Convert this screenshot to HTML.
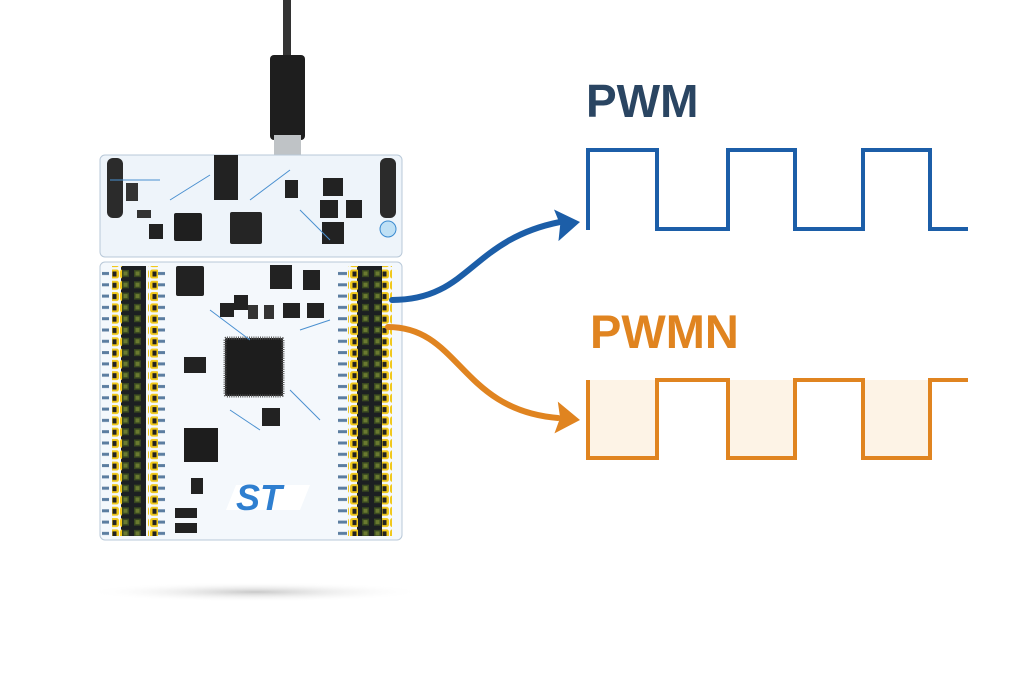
<!DOCTYPE html>
<html><head><style>
html,body{margin:0;padding:0;background:#fff;}
body{width:1024px;height:683px;overflow:hidden;position:relative;font-family:"Liberation Sans",sans-serif;}
</style></head><body>
<svg width="1024" height="683" viewBox="0 0 1024 683" xmlns="http://www.w3.org/2000/svg">
<defs>
<radialGradient id="sh" cx="0.5" cy="0.5" r="0.5"><stop offset="0" stop-color="#bbb" stop-opacity="0.8"/><stop offset="1" stop-color="#fff" stop-opacity="0"/></radialGradient>
<pattern id="hdr" x="0" y="268" width="12" height="11.3" patternUnits="userSpaceOnUse">
<rect x="2" y="2" width="7" height="7" fill="#3a4a20"/><rect x="3.5" y="3.5" width="4" height="4" fill="#6a7a30"/></pattern>
<pattern id="pin" x="0" y="268" width="10" height="11.3" patternUnits="userSpaceOnUse">
<rect x="0" y="1.5" width="9" height="9" rx="2.5" fill="#f0c81c"/><rect x="2.5" y="3.5" width="4" height="5" fill="#222"/></pattern>
<pattern id="lbl" x="0" y="268" width="14" height="11.3" patternUnits="userSpaceOnUse">
<rect x="2" y="4" width="9" height="3" fill="#5b7da0"/></pattern>
</defs>
<ellipse cx="255" cy="592" rx="170" ry="10" fill="url(#sh)"/>
<rect x="283" y="0" width="8" height="60" fill="#333"/>
<rect x="270" y="55" width="35" height="85" rx="4" fill="#1e1e1e"/>
<rect x="274" y="135" width="27" height="25" fill="#bfc3c6"/>
<rect x="100" y="155" width="302" height="102" rx="5" fill="#eef4fa" stroke="#b8c8d8"/>
<rect x="107" y="158" width="16" height="60" rx="6" fill="#2b2b2b"/>
<rect x="380" y="158" width="16" height="60" rx="6" fill="#2b2b2b"/>
<rect x="214" y="155" width="24" height="45" fill="#222"/>
<rect x="174" y="213" width="28" height="28" rx="2" fill="#1f1f1f"/>
<rect x="230" y="212" width="32" height="32" rx="2" fill="#252525"/>
<rect x="149" y="224" width="14" height="15" fill="#222"/>
<rect x="137" y="210" width="14" height="8" fill="#333"/>
<rect x="126" y="183" width="12" height="18" fill="#333"/>
<rect x="323" y="178" width="20" height="18" fill="#222"/>
<rect x="320" y="200" width="18" height="18" fill="#222"/>
<rect x="346" y="200" width="16" height="18" fill="#222"/>
<rect x="322" y="222" width="22" height="22" fill="#222"/>
<rect x="285" y="180" width="13" height="18" fill="#222"/>
<circle cx="388" cy="229" r="8" fill="#bfe0f5" stroke="#3a8ad0"/>
<path d="M110 180 L160 180 M170 200 L210 175 M250 200 L290 170 M300 210 L330 240" stroke="#4a90d0" stroke-width="1"/>
<rect x="100" y="262" width="302" height="278" rx="5" fill="#f4f8fc" stroke="#b8c8d8"/>
<rect x="121" y="266" width="25" height="270" fill="#1c1f22"/>
<rect x="121" y="266" width="25" height="270" fill="url(#hdr)"/>
<rect x="112" y="266" width="10" height="270" fill="url(#pin)"/>
<rect x="148" y="266" width="10" height="270" fill="url(#pin)"/>
<rect x="102" y="266" width="10" height="270" fill="url(#lbl)"/>
<rect x="158" y="266" width="12" height="270" fill="url(#lbl)"/>
<rect x="357" y="266" width="25" height="270" fill="#1c1f22"/>
<rect x="357" y="266" width="25" height="270" fill="url(#hdr)"/>
<rect x="348" y="266" width="10" height="270" fill="url(#pin)"/>
<rect x="382" y="266" width="10" height="270" fill="url(#pin)"/>
<rect x="334" y="266" width="14" height="270" fill="url(#lbl)"/>
<rect x="176" y="266" width="28" height="30" rx="2" fill="#222"/>
<rect x="270" y="265" width="22" height="24" fill="#222"/>
<rect x="303" y="270" width="17" height="20" fill="#222"/>
<rect x="234" y="295" width="14" height="15" fill="#222"/>
<rect x="220" y="303" width="14" height="14" fill="#222"/>
<rect x="248" y="305" width="10" height="14" fill="#333"/>
<rect x="264" y="305" width="10" height="14" fill="#333"/>
<rect x="283" y="303" width="17" height="15" fill="#222"/>
<rect x="307" y="303" width="17" height="15" fill="#222"/>
<rect x="225" y="338" width="58" height="58" rx="2" fill="#1d1d1d" stroke="#555" stroke-dasharray="1 1.2" stroke-width="3"/>
<rect x="184" y="357" width="22" height="16" fill="#222"/>
<rect x="262" y="408" width="18" height="18" fill="#222"/>
<rect x="184" y="428" width="34" height="34" fill="#1d1d1d"/>
<rect x="191" y="478" width="12" height="16" fill="#222"/>
<rect x="175" y="508" width="22" height="10" fill="#222"/>
<rect x="175" y="523" width="22" height="10" fill="#222"/>
<path d="M236 485 L310 485 L300 510 L226 510 Z" fill="#fff"/>
<text x="236" y="510" font-family="Liberation Sans" font-style="italic" font-weight="bold" font-size="36" fill="#2f7fd0">ST</text>
<path d="M210 310 L250 340 M300 330 L330 320 M290 390 L320 420 M230 410 L260 430" stroke="#4a90d0" stroke-width="1" fill="none"/>
<path d="M392 300 C470 300 470 240 560 222" stroke="#1c5ea8" stroke-width="6" fill="none" stroke-linecap="round"/>
<path d="M580 222 L556 206 L560 222 L556 238 Z" fill="#1c5ea8" transform="rotate(-8 580 222)"/>
<path d="M388 327 C460 327 460 410 558 418" stroke="#e08420" stroke-width="6" fill="none" stroke-linecap="round"/>
<path d="M580 420 L556 404 L560 420 L556 436 Z" fill="#e08420" transform="rotate(6 580 420)"/>
<text x="586" y="117" font-family="Liberation Sans" font-weight="bold" font-size="46" fill="#2a4562">PWM</text>
<path d="M588 230 L588 150 L657 150 L657 229 L728 229 L728 150 L795 150 L795 229 L863 229 L863 150 L930 150 L930 229 L968 229" stroke="#1c5ea8" stroke-width="4" fill="none"/>
<text x="590" y="348" font-family="Liberation Sans" font-weight="bold" font-size="47" fill="#e08420">PWMN</text>
<rect x="588" y="380" width="69" height="78" fill="#fdf3e6"/>
<rect x="728" y="380" width="67" height="78" fill="#fdf3e6"/>
<rect x="863" y="380" width="67" height="78" fill="#fdf3e6"/>
<path d="M588 380 L588 458 L657 458 L657 380 L728 380 L728 458 L795 458 L795 380 L863 380 L863 458 L930 458 L930 380 L968 380" stroke="#e08420" stroke-width="4" fill="none"/>
</svg>
</body></html>
